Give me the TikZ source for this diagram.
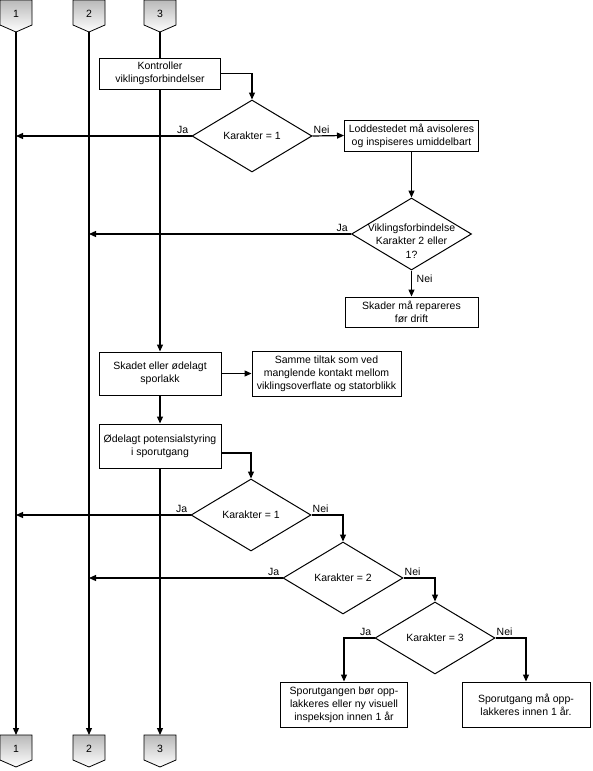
\documentclass[tikz,border=0pt]{standalone}
\usepackage{fontspec}
\setmainfont{Liberation Sans}
\usetikzlibrary{shapes.geometric,arrows.meta}
\newcommand\offpage[4]{%
  \draw[line width=0.8pt, top color=gray!55, bottom color=white]
    ({#2-16},{#3}) -- ({#2+16},{#3}) -- ({#2+16},{#3+25}) -- ({#2},{#3+32}) -- ({#2-16},{#3+25}) -- cycle;
  \node (#1) at ({#2},{#3+14}) {#4};
}
\begin{document}
\begin{tikzpicture}[x=1pt,y=-1pt,
  every node/.style={font=\fontsize{10.5}{13}\selectfont},
  box/.style={draw, line width=1pt, align=center, inner sep=1pt},
  dia/.style={draw, diamond, line width=1pt, inner sep=0pt, minimum width=120pt, minimum height=72pt},
  arr/.style={line width=1.2pt, -{Triangle[length=7pt,width=6pt]}},
  ln/.style={line width=1.2pt},
  lab/.style={inner sep=1pt},
  ja/.style={lab, anchor=south east, xshift=-2pt, yshift=1.5pt},
  nei/.style={lab, anchor=south west, xshift=0pt, yshift=1.5pt}
]
\useasboundingbox (0,0) rectangle (592,771);
\fill[white] (0,0) rectangle (592,771);

% off-page connectors
\offpage{c1}{16}{0}{1}
\offpage{c2}{89}{0}{2}
\offpage{c3}{160}{0}{3}
\offpage{e1}{16}{735}{1}
\offpage{e2}{89}{735}{2}
\offpage{e3}{160}{735}{3}
\coordinate (t1) at (16,32);
\coordinate (t2) at (89,32);
\coordinate (t3) at (160,32);
\coordinate (b1) at (16,735);
\coordinate (b2) at (89,735);
\coordinate (b3) at (160,735);

% boxes
\node[box, minimum width=121pt, minimum height=31pt] (kontroller) at (160,73.5) {Kontroller\\viklingsforbindelser};
\node[box, minimum width=134pt, minimum height=31pt] (lodd) at (411.5,135.5) {Loddestedet må avisoleres\\og inspiseres umiddelbart};
\node[box, minimum width=133pt, minimum height=30pt] (skader) at (411.5,312) {Skader må repareres\\før drift};
\node[box, minimum width=122pt, minimum height=43pt] (skadet) at (160,373.5) {Skadet eller ødelagt\\sporlakk};
\node[box, minimum width=149pt, minimum height=45pt] (samme) at (326.5,373.5) {Samme tiltak som ved\\manglende kontakt mellom\\viklingsoverflate og statorblikk};
\node[box, minimum width=122pt, minimum height=44pt] (odelagt) at (160,446) {Ødelagt potensialstyring\\i sporutgang};
\node[box, minimum width=127pt, minimum height=45pt] (spor1) at (344,704.5) {Sporutgangen bør opp-\\lakkeres eller ny visuell\\inspeksjon innen 1 år};
\node[box, minimum width=128pt, minimum height=45pt] (spor2) at (526,704.5) {Sporutgang må opp-\\lakkeres innen 1 år.};

% diamonds
\node[dia] (d1) at (252,136) {};
\node (d1t) at (d1.center) {Karakter = 1};
\node[dia] (d2) at (411.5,234) {};
\node[align=center, font=\fontsize{10.5}{13.5}\selectfont] (d2t) at ([yshift=-7pt]d2.center) {Viklingsforbindelse\\Karakter 2 eller\\1?};
\node[dia] (d3) at (251,515) {};
\node (d3t) at (d3.center) {Karakter = 1};
\node[dia] (d4) at (343,578) {};
\node (d4t) at (d4.center) {Karakter = 2};
\node[dia] (d5) at (435,638) {};
\node (d5t) at (d5.center) {Karakter = 3};

% vertical lanes
\draw[arr] (t1) -- (b1);
\draw[arr] (t2) -- (b2);
\draw[ln] (t3) -- (kontroller.north);
\draw[arr] (kontroller.south) -- (skadet.north);
\draw[arr] (skadet.south) -- (odelagt.north);
\draw[arr] (odelagt.south) -- (b3);

% flow
\draw[arr] (kontroller.east) -| (d1.north);
\draw[arr] (d1.west) -- (d1.west -| t1);
\node[ja] (d1ja) at (d1.west) {Ja};
\draw[arr] (d1.east) -- (lodd.west);
\node[nei] (d1nei) at (d1.east) {Nei};
\draw[arr] (lodd.south) -- (d2.north);
\draw[arr] (d2.west) -- (d2.west -| t2);
\node[ja] (d2ja) at (d2.west) {Ja};
\draw[arr] (d2.south) -- (skader.north);
\node[lab, anchor=north west, xshift=4pt, yshift=-3pt] (d2nei) at (d2.south) {Nei};

\draw[arr] (skadet.east) -- (samme.west);

\draw[arr] ([yshift=-7pt]odelagt.east) -| (d3.north);
\draw[arr] (d3.west) -- (d3.west -| t1);
\node[ja] (d3ja) at (d3.west) {Ja};
\draw[arr] (d3.east) -| (d4.north);
\node[nei] (d3nei) at (d3.east) {Nei};
\draw[arr] (d4.west) -- (d4.west -| t2);
\node[ja] (d4ja) at (d4.west) {Ja};
\draw[arr] (d4.east) -| (d5.north);
\node[nei] (d4nei) at (d4.east) {Nei};
\draw[arr] (d5.west) -| (spor1.north);
\node[ja] (d5ja) at (d5.west) {Ja};
\draw[arr] (d5.east) -| (spor2.north);
\node[nei] (d5nei) at (d5.east) {Nei};
\end{tikzpicture}
\end{document}
